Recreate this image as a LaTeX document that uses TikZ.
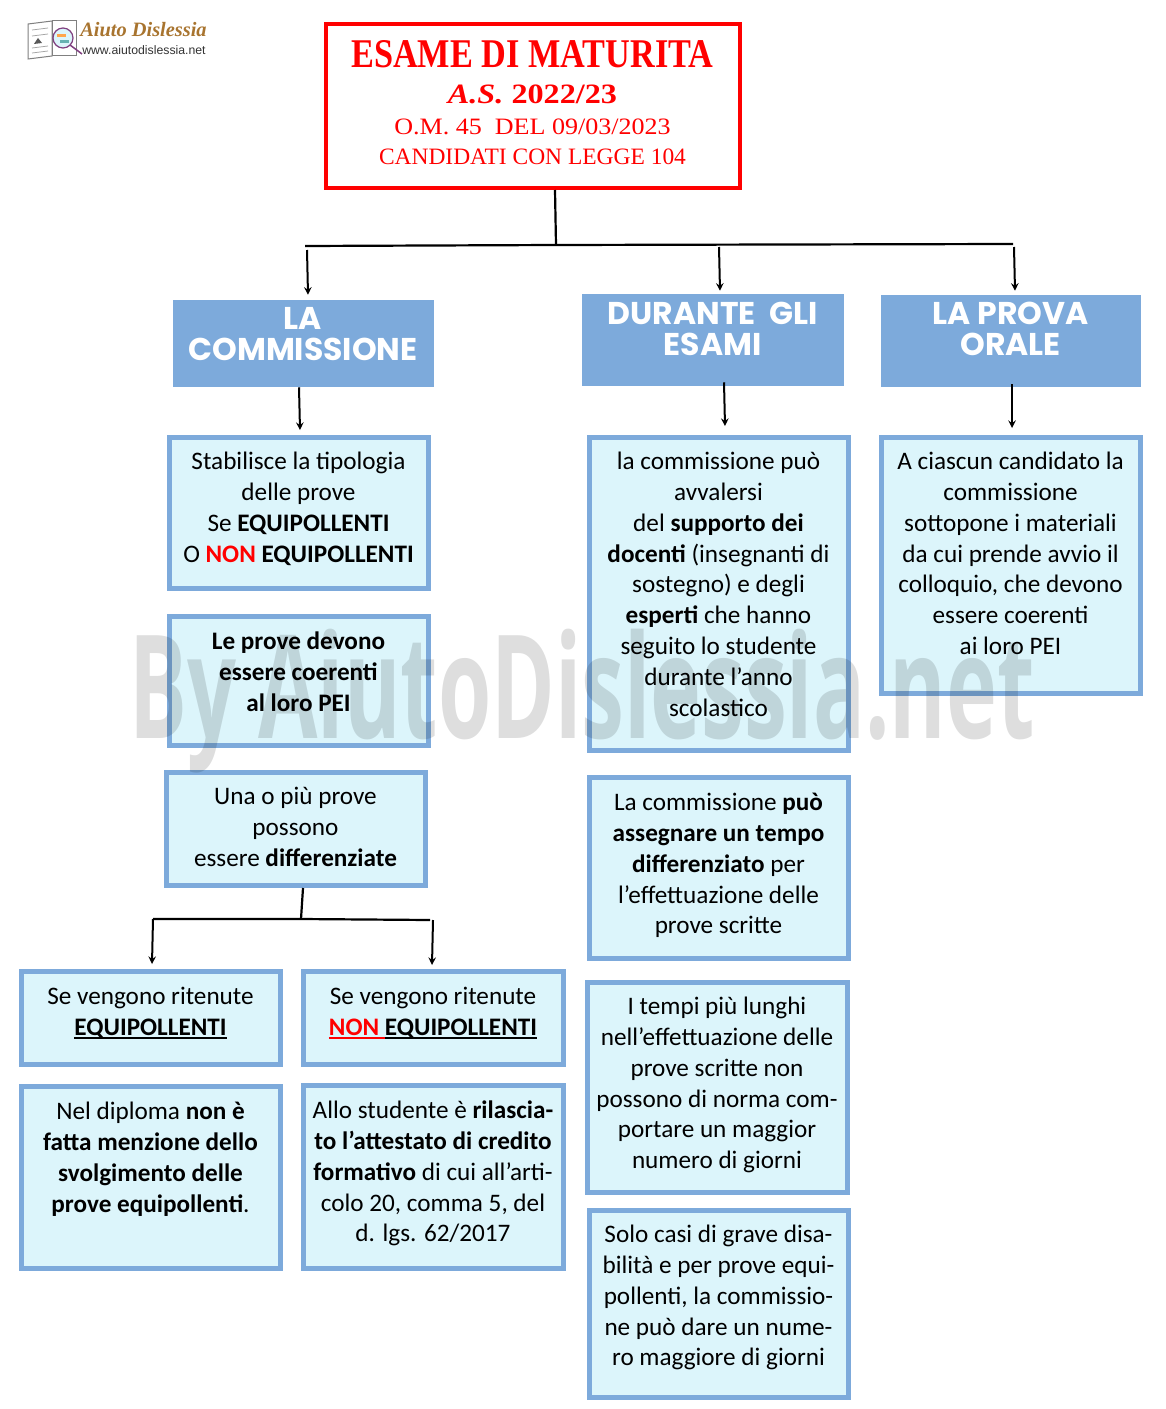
\documentclass[tikz,border=0pt]{standalone}
\usepackage{fontspec}
\setmainfont{Carlito}
\newfontfamily\titlefont{Liberation Serif}
\newfontfamily\headfont{Poppins}
\newfontfamily\markfont{Open Sans}
\newfontfamily\logofont{Liberation Sans}
\usetikzlibrary{calc,arrows.meta}
\definecolor{boxblue}{HTML}{7DAADB}
\definecolor{boxlight}{HTML}{DCF5FB}
\definecolor{logobrown}{HTML}{A8742F}
\newlength\px
\setlength\px{.75pt}
% box text: height, width, first line height, text
\newcommand{\inbox}[4]{\kern-.5\px\parbox[c][#1\px][t]{#2\px}{\centering\rule{0pt}{#3\px}#4}\kern.5\px}
% heavy underline
\newcommand{\heavyul}[2][black]{\setbox0\hbox{#2}\rlap{\textcolor{#1}{\rule[-4\px]{\wd0}{2.2\px}}}\box0}
\tikzset{
  lightbox/.style={draw=boxblue,line width=5\px,fill=boxlight,inner sep=0pt,
    font=\fontsize{18.9}{23.15}\selectfont},
  headbox/.style={fill=boxblue,inner sep=0pt,text=white,
    font=\headfont\bfseries\fontsize{23.6}{23.25}\selectfont},
  titlebox/.style={draw=red,line width=4\px,inner sep=0pt,text=red,font=\titlefont},
  bus/.style={line width=2.2\px},
  link/.style={->,>=stealth,line width=2\px},
}
\begin{document}
\begin{tikzpicture}[x=.75pt,y=-.75pt]
    \useasboundingbox (0,0) rectangle (1166,1409);
    % logo
    \draw[gray,fill=white,line width=1\px] (28,24)--(52,21)--(52,56)--(28,59)--cycle;
    \draw[gray,fill=white,line width=1\px] (52,21)--(76,21)--(76,56)--(52,56)--cycle;
    \draw[gray!70,line width=.8\px] (32,30)--(48,28) (32,36)--(48,34) (32,48)--(48,46) (32,53)--(48,51);
    \fill[gray!70!black] (34,44)--(38,38)--(42,43)--cycle;
    \draw[violet!50!gray,fill=boxlight,line width=1.2\px] (63,38) circle (10);
    \fill[orange!70] (57,34) rectangle (66,37);
    \fill[teal!60] (60,40) rectangle (69,43);
    \draw[violet!50!gray,line width=1.5\px] (70,45)--(82,54);
    \node[inner sep=0pt,anchor=west,text=logobrown,font=\titlefont\bfseries\itshape\fontsize{15.3}{17}\selectfont] (logoname) at (80,30) {Aiuto Dislessia};
    \node[inner sep=0pt,anchor=west,text=black!80,font=\logofont\fontsize{9.2}{11}\selectfont] (logourl) at (82,50) {www.aiutodislessia.net};
    % title
    \node[titlebox] (title) at (533,106) {\inbox{164}{414}{0}{%
      {\fontsize{30.6}{30}\selectfont\bfseries\rule{0pt}{44\px}\scalebox{.84}[1]{ESAME DI MATURITA}\par}
      {\fontsize{21}{27}\selectfont\bfseries\scalebox{1.15}[1]{{\itshape A.S.} 2022/23}\par}
      {\fontsize{17.6}{22.7}\selectfont\scalebox{1.11}[1]{O.M. 45\ \ DEL 09/03/2023}\\CANDIDATI CON LEGGE 104\par}}};
    % headers
    \node[headbox] (hcomm) at (303.5,343.5) {\inbox{87}{261}{29}{LA\\COMMISSIONE}};
    \node[headbox] (hdur) at (713,340) {\inbox{92}{262}{30}{DURANTE\ \ GLI\\ESAMI}};
    \node[headbox] (hprova) at (1011,341) {\inbox{92}{260}{29}{LA PROVA\\ORALE}};
    % left column
    \node[lightbox] (stab) at (299,513) {\inbox{151}{259}{32}{Stabilisce la tipologia\\delle prove\\Se \textbf{EQUIPOLLENTI}\\O \textbf{\textcolor{red}{NON} EQUIPOLLENTI}}};
    \node[lightbox] (coer) at (299,681) {\inbox{129}{259}{33}{\textbf{Le prove devono\\essere coerenti\\al loro PEI}}};
    \node[lightbox] (diff) at (296,829) {\inbox{113}{259}{32}{Una o più prove\\possono\\essere \textbf{differenziate}}};
    \node[lightbox] (equi) at (151,1018) {\inbox{93}{259}{33}{Se vengono ritenute\\\textbf{\heavyul{EQUIPOLLENTI}}}};
    \node[lightbox] (nonequi) at (433.5,1018) {\inbox{93}{260}{33}{Se vengono ritenute\\\textbf{\heavyul[red]{\textcolor{red}{NON }}\heavyul{EQUIPOLLENTI}}}};
    \node[lightbox] (dipl) at (151,1177.5) {\inbox{182}{259}{33}{Nel diploma \textbf{non è\\fatta menzione dello\\svolgimento delle\\prove equipollenti}.}};
    \node[lightbox] (attest) at (433.5,1177) {\inbox{183}{260}{33}{Allo studente è \textbf{rilascia-\\to l’attestato di credito\\formativo} di cui all’arti-\\colo 20, comma 5, del\\d. lgs. 62/2017}};
    % middle column
    \node[lightbox] (supp) at (719,594) {\inbox{313}{259}{32}{la commissione può\\avvalersi\\del \textbf{supporto dei\\docenti} (insegnanti di\\sostegno) e degli\\\textbf{esperti} che hanno\\seguito lo studente\\durante l’anno\\scolastico}};
    \node[lightbox] (tempo) at (719,868) {\inbox{181}{259}{33}{La commissione \textbf{può\\assegnare un tempo\\differenziato} per\\l’effettuazione delle\\prove scritte}};
    \node[lightbox] (lunghi) at (717.5,1087.5) {\inbox{210}{260}{32}{I tempi più lunghi\\nell’effettuazione delle\\prove scritte non\\possono di norma com-\\portare un maggior\\numero di giorni}};
    \node[lightbox] (grave) at (719,1304) {\inbox{187}{259}{32}{Solo casi di grave disa-\\bilità e per prove equi-\\pollenti, la commissio-\\ne può dare un nume-\\ro maggiore di giorni}};
    % right column
    \node[lightbox] (orale) at (1011,565.5) {\inbox{256}{259}{32}{A ciascun candidato la\\commissione\\sottopone i materiali\\da cui prende avvio il\\colloquio, che devono\\essere coerenti\\ai loro PEI}};
    % connectors
    \coordinate (busl) at (305,246);
    \coordinate (busm) at (556,245);
    \coordinate (busr) at (1013,244);
    \coordinate (subl) at (153,919);
    \coordinate (subm) at (301,919);
    \coordinate (subr) at (430,920);
    \draw[bus] ($(title.south)+(22,0)$)--(busm);
    \draw[bus] (busl)--(busm)--(busr);
    \draw[link] ($(busl)+(2,4)$)--($(hcomm.north)+(4.5,-5)$);
    \draw[link] ($(busm)+(163,2)$)--($(hdur.north)+(7,-3)$);
    \draw[link] ($(busr)+(1,3)$)--($(hprova.north)+(4,-4)$);
    \draw[link] ($(hcomm.south)+(-4.5,0)$)--($(stab.north)+(1,-5)$);
    \draw[link] ($(hdur.south)+(11,-4)$)--($(supp.north)+(6,-9)$);
    \draw[link] ($(hprova.south)+(1,-3)$)--($(orale.north)+(1,-7)$);
    \draw[bus] ($(diff.south)+(7,0)$)--(subm);
    \draw[bus] (subl)--(subm)--(subr);
    \draw[link] (subl)--($(equi.north)+(1,-5)$);
    \draw[link] ($(subr)+(3,0)$)--($(nonequi.north)+(-1.5,-4)$);
    % watermark
    \node[inner sep=0pt,anchor=base west,text=black,text opacity=.13,font=\markfont\bfseries\fontsize{108}{110}\selectfont] (mark) at (129,738) {\scalebox{.598}[1]{By AiutoDislessia.net}};
  \end{tikzpicture}
\end{document}
